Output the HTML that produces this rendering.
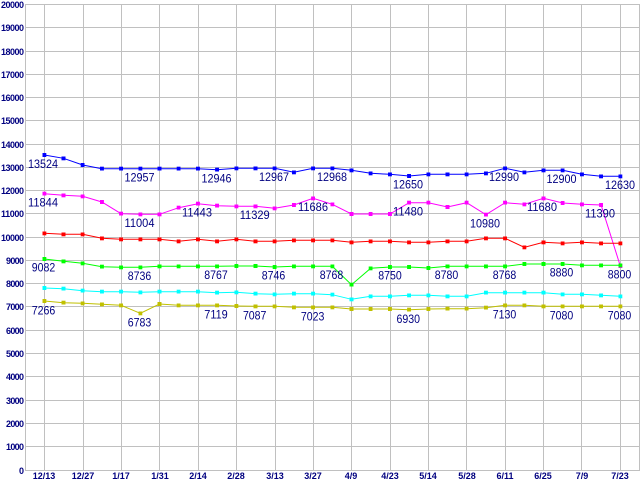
<!DOCTYPE html>
<html><head><meta charset="utf-8"><style>
html,body{margin:0;padding:0;background:#fff;width:640px;height:480px;overflow:hidden}
svg{display:block}
.ax{font-family:"Liberation Sans",sans-serif;font-size:9px;font-weight:bold;fill:#000080}
.lb{font-family:"Liberation Sans",sans-serif;font-size:12px;fill:#000080}
</style></head><body>
<svg width="640" height="480" viewBox="0 0 640 480" xmlns="http://www.w3.org/2000/svg">
<defs>
<marker id="mb" markerWidth="4" markerHeight="4" refX="2" refY="2" markerUnits="userSpaceOnUse"><rect width="4" height="4" fill="#0000ff"/></marker>
<marker id="mm" markerWidth="4" markerHeight="4" refX="2" refY="2" markerUnits="userSpaceOnUse"><rect width="4" height="4" fill="#ff00ff"/></marker>
<marker id="mr" markerWidth="4" markerHeight="4" refX="2" refY="2" markerUnits="userSpaceOnUse"><rect width="4" height="4" fill="#ff0000"/></marker>
<marker id="mg" markerWidth="4" markerHeight="4" refX="2" refY="2" markerUnits="userSpaceOnUse"><rect width="4" height="4" fill="#00ff00"/></marker>
<marker id="mc" markerWidth="4" markerHeight="4" refX="2" refY="2" markerUnits="userSpaceOnUse"><rect width="4" height="4" fill="#00ffff"/></marker>
<marker id="my" markerWidth="4" markerHeight="4" refX="2" refY="2" markerUnits="userSpaceOnUse"><rect width="4" height="4" fill="#c0c000"/></marker>
</defs>
<g stroke="#c0c0c0" stroke-width="1" shape-rendering="crispEdges">
<line x1="25" y1="4.5" x2="639" y2="4.5"/>
<line x1="25" y1="27.5" x2="639" y2="27.5"/>
<line x1="25" y1="51.5" x2="639" y2="51.5"/>
<line x1="25" y1="74.5" x2="639" y2="74.5"/>
<line x1="25" y1="97.5" x2="639" y2="97.5"/>
<line x1="25" y1="120.5" x2="639" y2="120.5"/>
<line x1="25" y1="144.5" x2="639" y2="144.5"/>
<line x1="25" y1="167.5" x2="639" y2="167.5"/>
<line x1="25" y1="190.5" x2="639" y2="190.5"/>
<line x1="25" y1="213.5" x2="639" y2="213.5"/>
<line x1="25" y1="237.5" x2="639" y2="237.5"/>
<line x1="25" y1="260.5" x2="639" y2="260.5"/>
<line x1="25" y1="283.5" x2="639" y2="283.5"/>
<line x1="25" y1="306.5" x2="639" y2="306.5"/>
<line x1="25" y1="330.5" x2="639" y2="330.5"/>
<line x1="25" y1="353.5" x2="639" y2="353.5"/>
<line x1="25" y1="376.5" x2="639" y2="376.5"/>
<line x1="25" y1="400.5" x2="639" y2="400.5"/>
<line x1="25" y1="423.5" x2="639" y2="423.5"/>
<line x1="25" y1="446.5" x2="639" y2="446.5"/>
<line x1="25" y1="470.5" x2="639" y2="470.5"/>
<line x1="25.5" y1="4" x2="25.5" y2="471"/>
<line x1="44.5" y1="4" x2="44.5" y2="471"/>
<line x1="83.5" y1="4" x2="83.5" y2="471"/>
<line x1="121.5" y1="4" x2="121.5" y2="471"/>
<line x1="159.5" y1="4" x2="159.5" y2="471"/>
<line x1="198.5" y1="4" x2="198.5" y2="471"/>
<line x1="236.5" y1="4" x2="236.5" y2="471"/>
<line x1="275.5" y1="4" x2="275.5" y2="471"/>
<line x1="313.5" y1="4" x2="313.5" y2="471"/>
<line x1="351.5" y1="4" x2="351.5" y2="471"/>
<line x1="390.5" y1="4" x2="390.5" y2="471"/>
<line x1="428.5" y1="4" x2="428.5" y2="471"/>
<line x1="466.5" y1="4" x2="466.5" y2="471"/>
<line x1="505.5" y1="4" x2="505.5" y2="471"/>
<line x1="543.5" y1="4" x2="543.5" y2="471"/>
<line x1="581.5" y1="4" x2="581.5" y2="471"/>
<line x1="620.5" y1="4" x2="620.5" y2="471"/>
<line x1="639.5" y1="4" x2="639.5" y2="471"/>
</g>
<g class="ax" text-anchor="end">
<text x="24" y="8" textLength="23">20000</text>
<text x="24" y="31" textLength="23">19000</text>
<text x="24" y="55" textLength="23">18000</text>
<text x="24" y="78" textLength="23">17000</text>
<text x="24" y="101" textLength="23">16000</text>
<text x="24" y="124" textLength="23">15000</text>
<text x="24" y="148" textLength="23">14000</text>
<text x="24" y="171" textLength="23">13000</text>
<text x="24" y="194" textLength="23">12000</text>
<text x="24" y="217" textLength="23">11000</text>
<text x="24" y="241" textLength="23">10000</text>
<text x="24" y="264" textLength="18">9000</text>
<text x="24" y="287" textLength="18">8000</text>
<text x="24" y="310" textLength="18">7000</text>
<text x="24" y="334" textLength="18">6000</text>
<text x="24" y="357" textLength="18">5000</text>
<text x="24" y="380" textLength="18">4000</text>
<text x="24" y="404" textLength="18">3000</text>
<text x="24" y="427" textLength="18">2000</text>
<text x="24" y="450" textLength="18">1000</text>
<text x="24" y="474">0</text>
</g>
<g class="ax" text-anchor="middle">
<text x="44" y="479">12/13</text>
<text x="83" y="479">12/27</text>
<text x="121" y="479">1/17</text>
<text x="160" y="479">1/31</text>
<text x="198" y="479">2/14</text>
<text x="236" y="479">2/28</text>
<text x="275" y="479">3/13</text>
<text x="313" y="479">3/27</text>
<text x="351" y="479">4/9</text>
<text x="390" y="479">4/23</text>
<text x="428" y="479">5/14</text>
<text x="467" y="479">5/28</text>
<text x="505" y="479">6/11</text>
<text x="543" y="479">6/25</text>
<text x="582" y="479">7/9</text>
<text x="620" y="479">7/23</text>
</g>
<g fill="none" stroke-width="1">
<polyline stroke="#0000ff" marker-start="url(#mb)" marker-mid="url(#mb)" marker-end="url(#mb)" points="44.3,155 63.5,158.3 82.7,165 101.9,168.7 121.1,168.7 140.3,168.7 159.5,168.7 178.7,168.7 197.9,168.7 217.1,169.7 236.3,168.3 255.5,168.3 274.7,168.3 293.9,172.3 313.1,168.3 332.3,168.3 351.5,170.3 370.7,173.3 389.9,174.3 409.1,176 428.3,174.3 447.5,174.3 466.7,174.3 485.9,173.3 505.1,168.3 524.3,172.3 543.5,170.3 562.7,170.3 581.9,174.3 601.1,176.3 620.3,176.3"/>
<polyline stroke="#ff00ff" marker-start="url(#mm)" marker-mid="url(#mm)" marker-end="url(#mm)" points="44.3,193.7 63.5,195.3 82.7,196.3 101.9,202 121.1,213.7 140.3,214.3 159.5,214.3 178.7,207.7 197.9,203.7 217.1,205.7 236.3,206.3 255.5,206.3 274.7,208.3 293.9,205 313.1,198.3 332.3,204.3 351.5,214 370.7,214 389.9,214 409.1,202.7 428.3,202.7 447.5,207 466.7,202.7 485.9,214.7 505.1,202.7 524.3,204.3 543.5,198.3 562.7,203 581.9,204.3 601.1,205 620.3,266"/>
<polyline stroke="#ff0000" marker-start="url(#mr)" marker-mid="url(#mr)" marker-end="url(#mr)" points="44.3,233.3 63.5,234.3 82.7,234.3 101.9,238.3 121.1,239.3 140.3,239.3 159.5,239.3 178.7,241.3 197.9,239.3 217.1,241.3 236.3,239.3 255.5,241.3 274.7,241.3 293.9,240.3 313.1,240.3 332.3,240.3 351.5,242.3 370.7,241.3 389.9,241.3 409.1,242.3 428.3,242.3 447.5,241.3 466.7,241.3 485.9,238.3 505.1,238.3 524.3,247.3 543.5,242.3 562.7,243.3 581.9,242.3 601.1,243.3 620.3,243.3"/>
<polyline stroke="#00ff00" marker-start="url(#mg)" marker-mid="url(#mg)" marker-end="url(#mg)" points="44.3,259 63.5,261.3 82.7,263.3 101.9,266.7 121.1,267.3 140.3,267.3 159.5,266.3 178.7,266.3 197.9,266.3 217.1,266.3 236.3,266 255.5,266 274.7,267 293.9,266.3 313.1,266.3 332.3,266.3 351.5,284.7 370.7,268.3 389.9,267 409.1,267 428.3,268 447.5,266.3 466.7,266.3 485.9,266.3 505.1,266.3 524.3,264 543.5,264 562.7,264 581.9,265.3 601.1,265.3 620.3,265.3"/>
<polyline stroke="#00ffff" marker-start="url(#mc)" marker-mid="url(#mc)" marker-end="url(#mc)" points="44.3,288 63.5,288.7 82.7,290.7 101.9,291.7 121.1,291.7 140.3,292.3 159.5,291.7 178.7,291.7 197.9,291.7 217.1,292.7 236.3,292.3 255.5,293.7 274.7,294.3 293.9,293.7 313.1,293.7 332.3,294.7 351.5,299.3 370.7,296.3 389.9,296.3 409.1,295.3 428.3,295.3 447.5,296.3 466.7,296.3 485.9,292.7 505.1,292.7 524.3,292.7 543.5,292.7 562.7,294.3 581.9,294.3 601.1,295.3 620.3,296.3"/>
<polyline stroke="#c0c000" marker-start="url(#my)" marker-mid="url(#my)" marker-end="url(#my)" points="44.3,301 63.5,302.7 82.7,303.3 101.9,304.3 121.1,305.3 140.3,313.3 159.5,304 178.7,305.3 197.9,305.3 217.1,305.3 236.3,306 255.5,306.3 274.7,306.3 293.9,307.3 313.1,307.3 332.3,307.3 351.5,309 370.7,309 389.9,309 409.1,309.7 428.3,309 447.5,308.7 466.7,308.7 485.9,307.7 505.1,305.3 524.3,305.3 543.5,306.3 562.7,306.3 581.9,306.3 601.1,306.3 620.3,306.3"/>
</g>
<g class="lb" text-anchor="middle">
<text x="43" y="168" textLength="30" lengthAdjust="spacingAndGlyphs">13524</text>
<text x="139.5" y="181.4" textLength="30" lengthAdjust="spacingAndGlyphs">12957</text>
<text x="216.5" y="182.4" textLength="30" lengthAdjust="spacingAndGlyphs">12946</text>
<text x="274" y="181" textLength="30" lengthAdjust="spacingAndGlyphs">12967</text>
<text x="332" y="181" textLength="30" lengthAdjust="spacingAndGlyphs">12968</text>
<text x="408" y="188.7" textLength="30" lengthAdjust="spacingAndGlyphs">12650</text>
<text x="504" y="181" textLength="30" lengthAdjust="spacingAndGlyphs">12990</text>
<text x="561.5" y="183" textLength="30" lengthAdjust="spacingAndGlyphs">12900</text>
<text x="620" y="189" textLength="30" lengthAdjust="spacingAndGlyphs">12630</text>

<text x="43" y="206.4" textLength="30" lengthAdjust="spacingAndGlyphs">11844</text>
<text x="139.5" y="227" textLength="30" lengthAdjust="spacingAndGlyphs">11004</text>
<text x="197" y="216.4" textLength="30" lengthAdjust="spacingAndGlyphs">11443</text>
<text x="254.7" y="219" textLength="30" lengthAdjust="spacingAndGlyphs">11329</text>
<text x="313" y="211" textLength="30" lengthAdjust="spacingAndGlyphs">11686</text>
<text x="408" y="215.4" textLength="30" lengthAdjust="spacingAndGlyphs">11480</text>
<text x="485" y="227.4" textLength="30" lengthAdjust="spacingAndGlyphs">10980</text>
<text x="542" y="211" textLength="30" lengthAdjust="spacingAndGlyphs">11680</text>
<text x="600" y="217.7" textLength="30" lengthAdjust="spacingAndGlyphs">11390</text>

<text x="43.5" y="271.7" textLength="23.5" lengthAdjust="spacingAndGlyphs">9082</text>
<text x="139.5" y="280" textLength="23.5" lengthAdjust="spacingAndGlyphs">8736</text>
<text x="216" y="279" textLength="23.5" lengthAdjust="spacingAndGlyphs">8767</text>
<text x="273.5" y="279.7" textLength="23.5" lengthAdjust="spacingAndGlyphs">8746</text>
<text x="331.5" y="279" textLength="23.5" lengthAdjust="spacingAndGlyphs">8768</text>
<text x="390" y="279.7" textLength="23.5" lengthAdjust="spacingAndGlyphs">8750</text>
<text x="446.5" y="279" textLength="23.5" lengthAdjust="spacingAndGlyphs">8780</text>
<text x="504.5" y="279" textLength="23.5" lengthAdjust="spacingAndGlyphs">8768</text>
<text x="561.5" y="276.7" textLength="23.5" lengthAdjust="spacingAndGlyphs">8880</text>
<text x="619.5" y="278.5" textLength="23.5" lengthAdjust="spacingAndGlyphs">8800</text>

<text x="43.5" y="314.5" textLength="23.5" lengthAdjust="spacingAndGlyphs">7266</text>
<text x="139.5" y="326.6" textLength="23.5" lengthAdjust="spacingAndGlyphs">6783</text>
<text x="216" y="318.6" textLength="23.5" lengthAdjust="spacingAndGlyphs">7119</text>
<text x="254.7" y="319.6" textLength="23.5" lengthAdjust="spacingAndGlyphs">7087</text>
<text x="312.6" y="320.6" textLength="23.5" lengthAdjust="spacingAndGlyphs">7023</text>
<text x="408.3" y="323" textLength="23.5" lengthAdjust="spacingAndGlyphs">6930</text>
<text x="504.5" y="318.6" textLength="23.5" lengthAdjust="spacingAndGlyphs">7130</text>
<text x="561.5" y="319.6" textLength="23.5" lengthAdjust="spacingAndGlyphs">7080</text>
<text x="619.5" y="319.6" textLength="23.5" lengthAdjust="spacingAndGlyphs">7080</text>
</g>
</svg>
</body></html>
